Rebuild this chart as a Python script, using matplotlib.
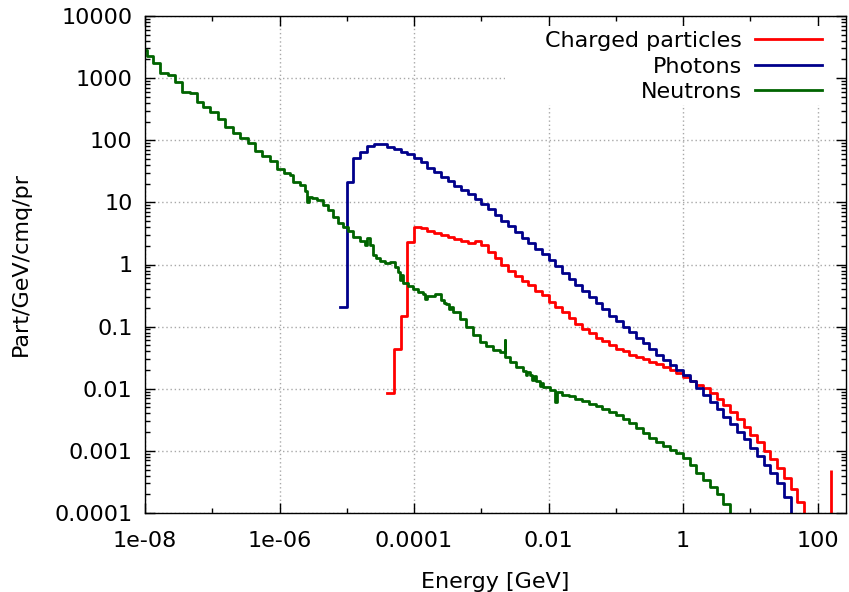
import numpy as np
import matplotlib
matplotlib.use("Agg")
import matplotlib.pyplot as plt
from matplotlib.ticker import FixedLocator, FuncFormatter, LogLocator, NullFormatter
from matplotlib.patches import Rectangle

# ---------------- data ----------------
series_labels = ["Charged particles", "Photons", "Neutrons"]
series_colors = ["#ff0000", "#00008b", "#006400"]

# photon and charged spectra use 0.1-decade bins; exponent of the first lower edge
photon_first_edge_exp = -5.1
charged_first_edge_exp = -4.4

photon_flux = [0.21, 21.4, 51, 65, 81, 87, 87, 79, 72, 64, 60, 51, 44, 36, 31, 26,
               22.4, 18.6, 15.8, 13.5, 11.2, 9.5, 7.8, 6.3, 5.1, 4.1, 3.3, 2.7, 2.2,
               1.78, 1.45, 1.17, 0.93, 0.74, 0.59, 0.47, 0.37, 0.30, 0.24, 0.19, 0.151,
               0.123, 0.100, 0.081, 0.066, 0.054, 0.044, 0.035, 0.029, 0.024, 0.020,
               0.0166, 0.0132, 0.0102, 0.0079, 0.0062, 0.0047, 0.0035, 0.0027, 0.0020,
               0.00155, 0.00112, 0.00083, 0.00060, 0.00044, 0.00030, 0.00018, 0]

charged_flux = [0.0085, 0.044, 0.148, 2.32, 4.05, 3.81, 3.49, 3.24, 2.97, 2.79, 2.59,
                2.38, 2.21, 2.38, 2.04, 1.60, 1.25, 1.00, 0.79, 0.65, 0.54, 0.46, 0.38,
                0.32, 0.25, 0.21, 0.174, 0.138, 0.112, 0.091, 0.078, 0.066, 0.058, 0.050,
                0.044, 0.040, 0.035, 0.032, 0.030, 0.027, 0.025, 0.022, 0.020, 0.0178,
                0.0155, 0.0135, 0.0117, 0.0102, 0.0085, 0.0069, 0.0054, 0.0042, 0.0032,
                0.0024, 0.0018, 0.00138, 0.00100, 0.00074, 0.00054, 0.00037, 0.00024,
                0.00015, 0]

charged_spike_energy = [160.0]
charged_spike_flux = [5e-4]

neutron_edges = [8.91e-9, 1.06e-8, 1.30e-8, 1.67e-8, 2.22e-8, 2.79e-8, 3.51e-8, 4.67e-8,
                 5.86e-8, 7.35e-8, 9.25e-8, 1.23e-7, 1.55e-7, 2.05e-7, 2.58e-7, 3.43e-7,
                 4.31e-7, 5.42e-7, 7.19e-7, 9.06e-7, 1.16e-6, 1.43e-6, 1.60e-6, 2.01e-6,
                 2.38e-6, 2.55e-6, 2.74e-6, 3.00e-6, 3.56e-6, 4.46e-6, 5.30e-6, 6.28e-6,
                 7.45e-6, 8.85e-6, 1.05e-5, 1.24e-5, 1.57e-5, 1.86e-5, 2.01e-5, 2.20e-5,
                 2.42e-5, 2.70e-5, 3.10e-5, 3.68e-5, 4.37e-5, 5.19e-5, 5.81e-5, 6.17e-5,
                 6.46e-5, 6.89e-5, 8.17e-5, 9.70e-5, 1.15e-4, 1.36e-4, 1.48e-4, 1.58e-4,
                 2.04e-4, 2.56e-4, 2.82e-4, 3.04e-4, 3.31e-4, 3.55e-4, 3.81e-4, 4.80e-4,
                 6.03e-4, 7.55e-4, 9.51e-4, 1.19e-3, 1.50e-3, 1.88e-3, 2.23e-3, 2.29e-3,
                 2.65e-3, 3.33e-3, 4.18e-3, 4.60e-3, 4.80e-3, 5.26e-3, 5.75e-3, 6.17e-3,
                 6.61e-3, 7.41e-3, 7.94e-3, 8.28e-3, 1.04e-2, 1.26e-2, 1.32e-2, 1.58e-2,
                 2.00e-2, 2.51e-2, 3.16e-2, 3.98e-2, 5.01e-2, 6.31e-2, 7.94e-2, 0.1, 0.126,
                 0.158, 0.2, 0.251, 0.316, 0.398, 0.501, 0.631, 0.794, 1.0, 1.26, 1.58,
                 2.0, 2.51, 3.16, 3.98, 5.01, 6.31]

neutron_flux = [2820, 2240, 1740, 1230, 1120, 851, 603, 569, 417, 339, 288, 217, 165, 129,
                107, 91.2, 67.6, 55.6, 46.2, 33.9, 29.3, 27.5, 21.4, 19.1, 15.1, 10.2,
                12.3, 11.6, 10.9, 9.06, 7.52, 5.89, 4.68, 3.98, 3.47, 2.79, 2.40, 2.04,
                2.63, 2.04, 1.41, 1.26, 1.15, 1.07, 1.10, 0.912, 0.759, 0.562, 0.676,
                0.513, 0.447, 0.398, 0.363, 0.339, 0.282, 0.316, 0.339, 0.269, 0.240,
                0.229, 0.191, 0.209, 0.170, 0.135, 0.100, 0.0741, 0.0575, 0.0479, 0.0417,
                0.0394, 0.0603, 0.0327, 0.0272, 0.0225, 0.0195, 0.0168, 0.0185, 0.0166,
                0.0138, 0.0158, 0.0135, 0.0112, 0.0126, 0.0107, 0.00955, 0.00617, 0.00871,
                0.00794, 0.00759, 0.00692, 0.00646, 0.00575, 0.00525, 0.00468, 0.00427,
                0.00380, 0.00331, 0.00282, 0.00234, 0.00195, 0.00162, 0.00138, 0.00120,
                0.00105, 0.000912, 0.000759, 0.000589, 0.000437, 0.000339, 0.000263,
                0.000204, 0.000141, 0]

x_major_ticks = [1e-8, 1e-6, 1e-4, 1e-2, 1, 100]
x_minor_ticks = [1e-7, 1e-5, 1e-3, 1e-1, 10]
y_major_ticks = [1e-4, 1e-3, 1e-2, 1e-1, 1, 10, 100, 1000, 10000]
x_limits = (1e-8, 265)
y_limits = (1e-4, 1e4)
x_label = "Energy [GeV]"
y_label = "Part/GeV/cmq/pr"

assert len(neutron_edges) == len(neutron_flux) + 1


def decade_edges(first_exp, nbins):
    return 10.0 ** (first_exp + 0.1 * np.arange(nbins + 1))


photon_edges = decade_edges(photon_first_edge_exp, len(photon_flux))
charged_edges = decade_edges(charged_first_edge_exp, len(charged_flux))

# ---------------- figure ----------------
plt.rcParams["font.family"] = ["DejaVu Sans"]
FS = 16
LW = 2.0
W, H = 849, 592
fig = plt.figure(figsize=(W / 100, H / 100), dpi=100)
ax = fig.add_axes([145 / W, (H - 513) / H, (846 - 145) / W, (513 - 16) / H])
ax.set_xscale("log")
ax.set_yscale("log")
ax.set_xlim(*x_limits)
ax.set_ylim(*y_limits)


def steps(ax, edges, vals, color, label):
    y = list(vals) + [vals[-1]]
    ax.step(edges, y, where="post", color=color, lw=LW, label=label, zorder=2)


steps(ax, charged_edges, charged_flux, series_colors[0], series_labels[0])
ax.vlines(charged_spike_energy, 0, charged_spike_flux, color=series_colors[0], lw=LW, zorder=2)
steps(ax, photon_edges, photon_flux, series_colors[1], series_labels[1])
steps(ax, neutron_edges, neutron_flux, series_colors[2], series_labels[2])

ax.xaxis.set_major_locator(FixedLocator(x_major_ticks))
ax.xaxis.set_minor_locator(FixedLocator(x_minor_ticks))
ax.yaxis.set_major_locator(FixedLocator(y_major_ticks))
ax.yaxis.set_minor_locator(LogLocator(base=10, subs=np.arange(2, 10), numticks=20))
fmt = FuncFormatter(lambda v, p: "%g" % v)
ax.xaxis.set_major_formatter(fmt)
ax.yaxis.set_major_formatter(fmt)
ax.xaxis.set_minor_formatter(NullFormatter())
ax.yaxis.set_minor_formatter(NullFormatter())

ax.tick_params(which="both", direction="in", top=True, right=True, labelsize=FS,
               colors="black")
ax.tick_params(which="major", length=7, width=1.0)
ax.tick_params(which="minor", length=3.6, width=1.0)
ax.tick_params(axis="x", pad=13)
ax.tick_params(axis="y", pad=9)

ax.set_axisbelow(True)
ax.grid(True, which="major", color="#a8a8a8", linestyle=(0, (1, 2)), lw=1.0)
for s in ax.spines.values():
    s.set_linewidth(1.0)
    s.set_color("black")

# opaque key area (covers the grid behind the key like the original)
ax.add_patch(Rectangle(((505 - 145) / 701, 1 - (105 - 16) / 497),
                       (836 - 505) / 701, (105 - 26) / 497,
                       transform=ax.transAxes, facecolor="white", edgecolor="none",
                       zorder=1))

leg = ax.legend(loc="upper right", bbox_to_anchor=(822 / W, 1 - 31.0 / H),
                bbox_transform=fig.transFigure, frameon=False, fontsize=FS,
                markerfirst=False, handlelength=3.0, handletextpad=0.6,
                labelspacing=0.25, borderpad=0, borderaxespad=0)
for col in leg._legend_handle_box.get_children():
    col.align = "right"

ax.set_xlabel(x_label, fontsize=FS, labelpad=15)
ax.set_ylabel(y_label, fontsize=FS, labelpad=17)

fig.savefig("out.png", dpi=100)
